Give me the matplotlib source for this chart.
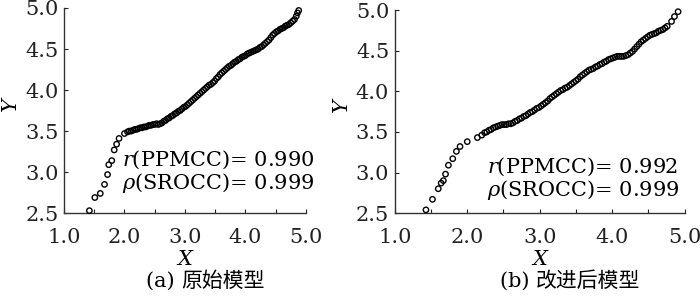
import matplotlib
matplotlib.use("Agg")
import matplotlib.pyplot as plt
from matplotlib.ticker import MultipleLocator

plt.rcParams['font.family'] = ['DejaVu Serif', 'Noto Sans CJK SC']
plt.rcParams['mathtext.fontset'] = 'dejavuserif'

# (a) original model
x_a = [1.42, 1.51, 1.60, 1.67, 1.72, 1.74, 1.79, 1.83, 1.87, 1.91, 2.00,
       2.05, 2.08, 2.11, 2.14, 2.17, 2.20, 2.23, 2.26, 2.29, 2.32, 2.35, 2.38,
       2.41, 2.44, 2.47, 2.50, 2.53, 2.56, 2.59, 2.62, 2.65, 2.68, 2.71, 2.74,
       2.77, 2.80, 2.83, 2.86, 2.89, 2.92, 2.95, 2.98, 3.01, 3.04, 3.07, 3.10,
       3.13, 3.16, 3.19, 3.22, 3.25, 3.28, 3.31, 3.34, 3.37, 3.40, 3.43, 3.46,
       3.49, 3.52, 3.55, 3.58, 3.61, 3.64, 3.67, 3.70, 3.73, 3.76, 3.79, 3.82,
       3.85, 3.88, 3.91, 3.94, 3.97, 4.00, 4.03, 4.06, 4.09, 4.12, 4.15, 4.18,
       4.21, 4.24, 4.27, 4.30, 4.33, 4.36, 4.39, 4.42, 4.45, 4.48, 4.51, 4.54,
       4.57, 4.60, 4.63, 4.66, 4.69, 4.72, 4.75, 4.78, 4.81, 4.84, 4.86, 4.88]
y_a = [2.53, 2.69, 2.74, 2.85, 2.97, 3.09, 3.14, 3.27, 3.34, 3.41, 3.47,
       3.49, 3.50, 3.50, 3.51, 3.52, 3.52, 3.53, 3.54, 3.54, 3.55, 3.55, 3.56,
       3.57, 3.57, 3.58, 3.58, 3.59, 3.58, 3.59, 3.60, 3.62, 3.63, 3.65, 3.66,
       3.68, 3.69, 3.71, 3.72, 3.74, 3.75, 3.77, 3.79, 3.80, 3.82, 3.84, 3.86,
       3.88, 3.90, 3.92, 3.94, 3.96, 3.98, 4.00, 4.02, 4.04, 4.06, 4.07, 4.09,
       4.11, 4.14, 4.16, 4.19, 4.21, 4.23, 4.25, 4.27, 4.29, 4.30, 4.32, 4.34,
       4.35, 4.37, 4.38, 4.40, 4.41, 4.42, 4.44, 4.45, 4.46, 4.47, 4.48, 4.49,
       4.50, 4.52, 4.53, 4.55, 4.57, 4.59, 4.61, 4.64, 4.67, 4.69, 4.71, 4.72,
       4.74, 4.75, 4.76, 4.78, 4.79, 4.80, 4.82, 4.84, 4.86, 4.90, 4.94, 4.97]

# (b) improved model
x_b = [1.43, 1.52, 1.60, 1.64, 1.67, 1.70, 1.74, 1.80, 1.85, 1.90, 2.00,
       2.14, 2.20, 2.24, 2.27, 2.30, 2.33, 2.36, 2.39, 2.42, 2.45, 2.48, 2.51,
       2.54, 2.57, 2.60, 2.63, 2.66, 2.69, 2.72, 2.75, 2.78, 2.81, 2.84, 2.87,
       2.90, 2.93, 2.96, 2.99, 3.02, 3.05, 3.08, 3.11, 3.14, 3.17, 3.20, 3.23,
       3.26, 3.29, 3.32, 3.35, 3.38, 3.41, 3.44, 3.47, 3.50, 3.53, 3.56, 3.59,
       3.62, 3.65, 3.68, 3.71, 3.74, 3.77, 3.80, 3.83, 3.86, 3.89, 3.92, 3.95,
       3.98, 4.01, 4.04, 4.07, 4.10, 4.13, 4.16, 4.19, 4.22, 4.25, 4.28, 4.31,
       4.34, 4.37, 4.40, 4.43, 4.46, 4.49, 4.52, 4.55, 4.58, 4.61, 4.64, 4.67,
       4.70, 4.73, 4.76, 4.82, 4.86, 4.91]
y_b = [2.54, 2.67, 2.80, 2.87, 2.90, 2.98, 3.09, 3.17, 3.26, 3.32, 3.38,
       3.43, 3.46, 3.49, 3.50, 3.52, 3.53, 3.55, 3.56, 3.57, 3.58, 3.59, 3.59,
       3.59, 3.60, 3.60, 3.61, 3.63, 3.64, 3.66, 3.67, 3.69, 3.70, 3.72, 3.74,
       3.75, 3.77, 3.79, 3.80, 3.82, 3.84, 3.86, 3.88, 3.91, 3.93, 3.95, 3.97,
       3.99, 4.01, 4.02, 4.04, 4.05, 4.07, 4.09, 4.11, 4.13, 4.15, 4.18, 4.20,
       4.22, 4.24, 4.26, 4.27, 4.28, 4.30, 4.31, 4.33, 4.34, 4.36, 4.37, 4.39,
       4.40, 4.41, 4.42, 4.43, 4.43, 4.43, 4.43, 4.44, 4.45, 4.47, 4.49, 4.52,
       4.55, 4.58, 4.61, 4.63, 4.65, 4.67, 4.69, 4.70, 4.71, 4.72, 4.74, 4.75,
       4.76, 4.78, 4.80, 4.86, 4.92, 4.98]

stats_a = ["$r$(PPMCC)= 0.990", r"$\rho$(SROCC)= 0.999"]
stats_b = ["$r$(PPMCC)= 0.992", r"$\rho$(SROCC)= 0.999"]
cap_tags = ["(a)", "(b)"]
cap_names = ["原始模型", "改进后模型"]

fig = plt.figure(figsize=(7, 2.96), dpi=100)
ax1 = fig.add_axes([0.0914, 0.280, 0.3457, 0.693])
ax2 = fig.add_axes([0.564, 0.280, 0.414, 0.686])

panels = [(ax1, x_a, y_a, stats_a, (1.96, 3.15, 2.87)),
          (ax2, x_b, y_b, stats_b, (2.27, 3.07, 2.78))]

cap_y = 1 - 281 / 296
for i, (ax, xs, ys, stats, tpos) in enumerate(panels):
    ax.scatter(xs, ys, s=15, facecolors='none', edgecolors='black',
               linewidths=1.0, clip_on=False, zorder=3)
    ax.set_xlim(1.0, 5.0)
    ax.set_ylim(2.5, 5.0)
    ax.xaxis.set_major_locator(MultipleLocator(1.0))
    ax.xaxis.set_minor_locator(MultipleLocator(0.5))
    ax.yaxis.set_major_locator(MultipleLocator(0.5))
    ax.xaxis.set_major_formatter(plt.FormatStrFormatter('%.1f'))
    ax.yaxis.set_major_formatter(plt.FormatStrFormatter('%.1f'))
    ax.spines['top'].set_visible(False)
    ax.spines['right'].set_visible(False)
    for sp in ['left', 'bottom']:
        ax.spines[sp].set_linewidth(1.0)
        ax.spines[sp].set_color('#333333')
    ax.tick_params(axis='x', which='both', direction='in', length=3,
                   width=0.8, pad=11, labelsize=15, colors='#222222')
    ax.tick_params(axis='y', which='both', direction='in', length=3,
                   width=0.8, pad=4, labelsize=15, colors='#222222')
    ax.set_xlabel('X', fontsize=15, style='italic', labelpad=2)
    ax.set_ylabel('Y', fontsize=15, style='italic')
    w = ax.get_position().width * 700
    ax.yaxis.set_label_coords(-44 / w, 0.53)
    ax.text(tpos[0], tpos[1], stats[0], fontsize=15, va='center', ha='left')
    ax.text(tpos[0], tpos[2], stats[1], fontsize=15, va='center', ha='left')
    pos = ax.get_position()
    cx = pos.x0 + pos.width / 2
    fig.text(cx - 0.005, cap_y, cap_tags[i] + " ", fontsize=15, ha='right',
             va='center', family='DejaVu Serif')
    fig.text(cx - 0.005, cap_y, cap_names[i], fontsize=15, ha='left',
             va='center', family='Noto Sans CJK SC')

fig.savefig('out.png', dpi=100)
